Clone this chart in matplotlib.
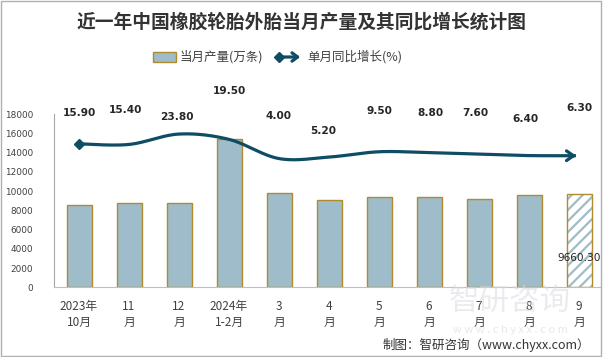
import numpy as np
import matplotlib.pyplot as plt
from matplotlib.patches import Rectangle, FancyArrowPatch
from matplotlib.lines import Line2D

plt.rcParams['font.family'] = ['Noto Sans CJK SC', 'DejaVu Sans']
plt.rcParams['hatch.linewidth'] = 1.6

# data
months = ["2023年\n10月", "11\n月", "12\n月", "2024年\n1-2月", "3\n月", "4\n月",
          "5\n月", "6\n月", "7\n月", "8\n月", "9\n月"]
output = [8520, 8730, 8730, 15380, 9770, 9070, 9350, 9350, 9150, 9560, 9660.30]
growth = [15.90, 15.40, 23.80, 19.50, 4.00, 5.20, 9.50, 8.80, 7.60, 6.40, 6.30]

# label placement (pixels relative to the line point)
lab_dx = [0, -3, -2, 0, 0, -6, 0, 1, -4, -4, 0]
lab_dy = [31, 34, 17, 48, 43, 26, 41, 40, 41, 37, 48]

bar_color = '#9EBCC9'
edge_color = '#B08A2E'
line_color = '#0E4D64'
text_color = '#404040'


def smooth(xs, ys, n=30):
    """Catmull-Rom style smoothing like the spreadsheet 'smoothed line'."""
    p = np.column_stack([xs, ys]).astype(float)
    p = np.vstack([p[0], p, p[-1]])
    out = []
    for i in range(1, len(p) - 2):
        p0, p1, p2, p3 = p[i - 1], p[i], p[i + 1], p[i + 2]
        c1 = p1 + (p2 - p0) / 6
        c2 = p2 - (p3 - p1) / 6
        t = np.linspace(0, 1, n)[:, None]
        seg = ((1 - t) ** 3) * p1 + 3 * ((1 - t) ** 2) * t * c1 + 3 * (1 - t) * t ** 2 * c2 + t ** 3 * p2
        out.append(seg if i == 1 else seg[1:])
    out = np.vstack(out)
    return out[:, 0], out[:, 1]


fig = plt.figure(figsize=(6.04, 3.57), dpi=100)
fig.patches.append(Rectangle((0.001, 0.003), 0.994, 0.994, transform=fig.transFigure,
                             fill=False, edgecolor='#B0B0B0', linewidth=1))

ax = fig.add_axes([54 / 604, (357 - 287.3) / 357, (601 - 54) / 604, (287.3 - 114) / 357])
x = np.arange(len(months))

ax.bar(x[:-1], output[:-1], width=0.5, color=bar_color, edgecolor=edge_color, linewidth=1, zorder=2)
# last month: hatched bar
ax.bar(x[-1:], output[-1:], width=0.5, color='white', edgecolor=bar_color, hatch='///',
       linewidth=0, zorder=2)
ax.bar(x[-1:], output[-1:], width=0.5, fill=False, edgecolor=edge_color, linewidth=1, zorder=3)
ax.annotate(f"{output[-1]:.2f}", (x[-1], 0), xytext=(0, 29), textcoords='offset pixels',
            ha='center', va='center', fontsize=7.6, color='#222222', family='DejaVu Sans', zorder=4)

ax.set_xlim(-0.5, 10.44)
ax.set_ylim(0, 18000)
ax.set_yticks(np.arange(0, 18001, 2000))
ax.set_xticks(x)
ax.set_xticklabels(months, fontsize=8.5, color=text_color, linespacing=1.35)
for lbl in ax.get_yticklabels():
    lbl.set_fontfamily('DejaVu Sans')
ax.tick_params(axis='y', length=0, pad=15, labelsize=6.4, labelcolor=text_color)
ax.tick_params(axis='x', length=0, pad=9)
for s in ['top', 'right']:
    ax.spines[s].set_visible(False)
ax.spines['left'].set_color('#A6A6A6')
ax.spines['bottom'].set_color('#BFBFBF')
ax.patch.set_alpha(0)

ax2 = ax.twinx()
ax2.set_ylim(-100, 40)
ax2.axis('off')
sx, sy = smooth(x, growth)
ax2.plot(sx[:-3], sy[:-3], color=line_color, linewidth=2.3, solid_capstyle='butt', zorder=5)
ax2.plot(x[0], growth[0], marker='D', markersize=5, color=line_color, zorder=6)
ax2.add_patch(FancyArrowPatch((sx[-8], sy[-8]), (sx[-1], sy[-1]), arrowstyle='->,head_length=5,head_width=3.5',
                              color=line_color, linewidth=2.3, mutation_scale=1, zorder=6))
for i, g in enumerate(growth):
    ax2.annotate(f"{g:.2f}", (x[i], g), xytext=(lab_dx[i], lab_dy[i]), textcoords='offset pixels',
                 ha='center', va='center', fontsize=7.6, fontweight='bold', color='#262626',
                 family='DejaVu Sans', annotation_clip=False)

# title
fig.text(0.5, 1 - 22 / 357, "近一年中国橡胶轮胎外胎当月产量及其同比增长统计图", ha='center', va='center',
         fontsize=13.5, fontweight='bold', color='#333333')

# legend (drawn by hand so the line icon can carry its arrow)
ly = 1 - 57 / 357
fig.patches.append(Rectangle((153 / 604, ly - 5 / 357), 23 / 604, 10 / 357, transform=fig.transFigure,
                             facecolor=bar_color, edgecolor=edge_color, linewidth=1))
fig.text(180 / 604, ly, "当月产量(万条)", ha='left', va='center', fontsize=9, color=text_color)
fig.patches.append(FancyArrowPatch((279 / 604, ly), (303 / 604, ly), transform=fig.transFigure,
                                   arrowstyle='->,head_length=4,head_width=3', mutation_scale=1,
                                   color=line_color, linewidth=2.3))
fig.lines.append(Line2D([279 / 604], [ly], transform=fig.transFigure, marker='D', markersize=5,
                        color=line_color))
fig.text(307 / 604, ly, "单月同比增长(%)", ha='left', va='center', fontsize=9, color=text_color)

# watermark
fig.text(510 / 604, 1 - 301 / 357, "智研咨询", ha='center', va='center', fontsize=22,
         color='#D5D9DE', alpha=0.5, zorder=0)
fig.text(510 / 604, 1 - 330 / 357, "w w w . c h y x x . c o m", ha='center', va='center',
         fontsize=8, color='#D5D9DE', alpha=0.6, zorder=0)

# source
fig.text(590 / 604, 1 - 345 / 357, "制图：智研咨询（www.chyxx.com）", ha='right', va='center',
         fontsize=9, color='#333333')

fig.savefig("out.png", dpi=100)
